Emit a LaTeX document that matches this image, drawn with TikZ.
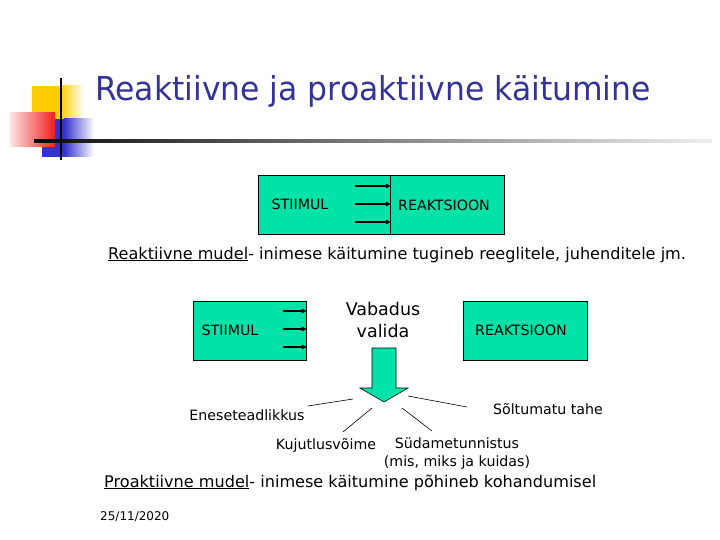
\documentclass[tikz,border=0pt]{standalone}
\usepackage{fontspec}
\setmainfont{DejaVu Sans}
\usetikzlibrary{arrows.meta}
\definecolor{mint}{RGB}{0,226,168}
\definecolor{navy}{RGB}{51,51,153}
\definecolor{dyellow}{RGB}{255,204,0}
\definecolor{dblue}{RGB}{51,51,204}
\definecolor{dred}{RGB}{240,30,30}
\pgfdeclarehorizontalshading{hlinefade}{100bp}{color(0bp)=(black); color(25bp)=(black); color(28bp)=(black!90); color(50bp)=(black!50); color(74bp)=(black!8); color(100bp)=(white)}
\begin{document}
\begin{tikzpicture}[x=1pt,y=-1pt,
  box/.style={draw=black, line width=0.8pt, fill=mint, inner sep=0pt, anchor=north west},
  lbl/.style={font=\fontsize{14.2}{18}\selectfont, inner sep=0pt},
  sarrow/.style={-{Triangle[length=5pt,width=4.5pt]}, line width=1.5pt},
  tie/.style={line width=0.6pt},
  body/.style={font=\fontsize{16.1}{19}\selectfont, inner sep=0pt, anchor=base west}]
\useasboundingbox (0,0) rectangle (720,540);
% decoration
\fill[dyellow] (32,86) rectangle (60,120);
\shade[left color=dyellow, right color=white] (60,86) rectangle (84,120);
\fill[dblue] (42,119) rectangle (64,157);
\shade[left color=dblue, right color=white] (64,119) rectangle (94,157);
\shade[left color=dred!12, right color=dred] (10,113) rectangle (55,147);
\shade[shading=hlinefade] (34,139.8) rectangle (712,142.6);
\draw[line width=2.4pt] (61,78) -- (61,160);
% title
\node[anchor=base west, inner sep=0pt, text=navy, font=\fontsize{33}{38}\selectfont] (title) at (95,101) {\scalebox{0.952}[1]{Reaktiivne ja proaktiivne käitumine}};
% reactive model
\node[box, minimum width=132pt, minimum height=59pt] (s1) at (258,175) {};
\node[box, minimum width=114pt, minimum height=59pt] (r1) at (390,175) {};
\node[lbl] (s1t) at (300,204) {STIIMUL};
\node[lbl] (r1t) at (444,205) {REAKTSIOON};
\foreach \dy in {11,29,47} {
  \draw[sarrow] ([xshift=-36pt,yshift=-\dy pt]s1.north east) -- ([yshift=-\dy pt]s1.north east);
}
\node[body] (rm) at (108,259) {\underline{Reaktiivne mudel}- inimese käitumine tugineb reeglitele, juhenditele jm.};
% proactive model
\node[box, minimum width=113pt, minimum height=59pt] (s2) at (193,301) {};
\node[box, minimum width=124pt, minimum height=59pt] (r2) at (463,301) {};
\node[lbl] (s2t) at (230,330) {STIIMUL};
\node[lbl] (r2t) at (521,330) {REAKTSIOON};
\foreach \dy in {10,28,46} {
  \draw[sarrow] ([xshift=-24pt,yshift=-\dy pt]s2.north east) -- ([yshift=-\dy pt]s2.north east);
}
\node[inner sep=0pt, font=\fontsize{17.5}{22}\selectfont, align=center, anchor=base] (vab) at (383,337) {Vabadus\\valida};
\draw[draw=black, line width=0.6pt, fill=mint] (372,348) -- (396,348) -- (396,388) -- (408,388) -- (384,402) -- (360,388) -- (372,388) -- cycle;
\coordinate (a1) at (353,399);
\coordinate (a2) at (372,408);
\coordinate (a3) at (402,408);
\coordinate (a4) at (408,396);
\node[lbl] (ene) at (247,415) {Eneseteadlikkus};
\node[lbl] (sol) at (548,409) {Sõltumatu tahe};
\node[lbl] (kuj) at (326,445) {Kujutlusvõime};
\node[lbl, align=center, anchor=base] (syd) at (457,466) {Südametunnistus\\(mis, miks ja kuidas)};
\draw[tie] (308,406) -- (a1);
\draw[tie] (343,432) -- (a2);
\draw[tie] (432,431) -- (a3);
\draw[tie] (467,407) -- (a4);
\node[body] (pm) at (104,487) {\underline{Proaktiivne mudel}- inimese käitumine põhineb kohandumisel};
\node[inner sep=0pt, font=\fontsize{12}{14}\selectfont, anchor=base west] (date) at (100,520) {25/11/2020};
\end{tikzpicture}
\end{document}
